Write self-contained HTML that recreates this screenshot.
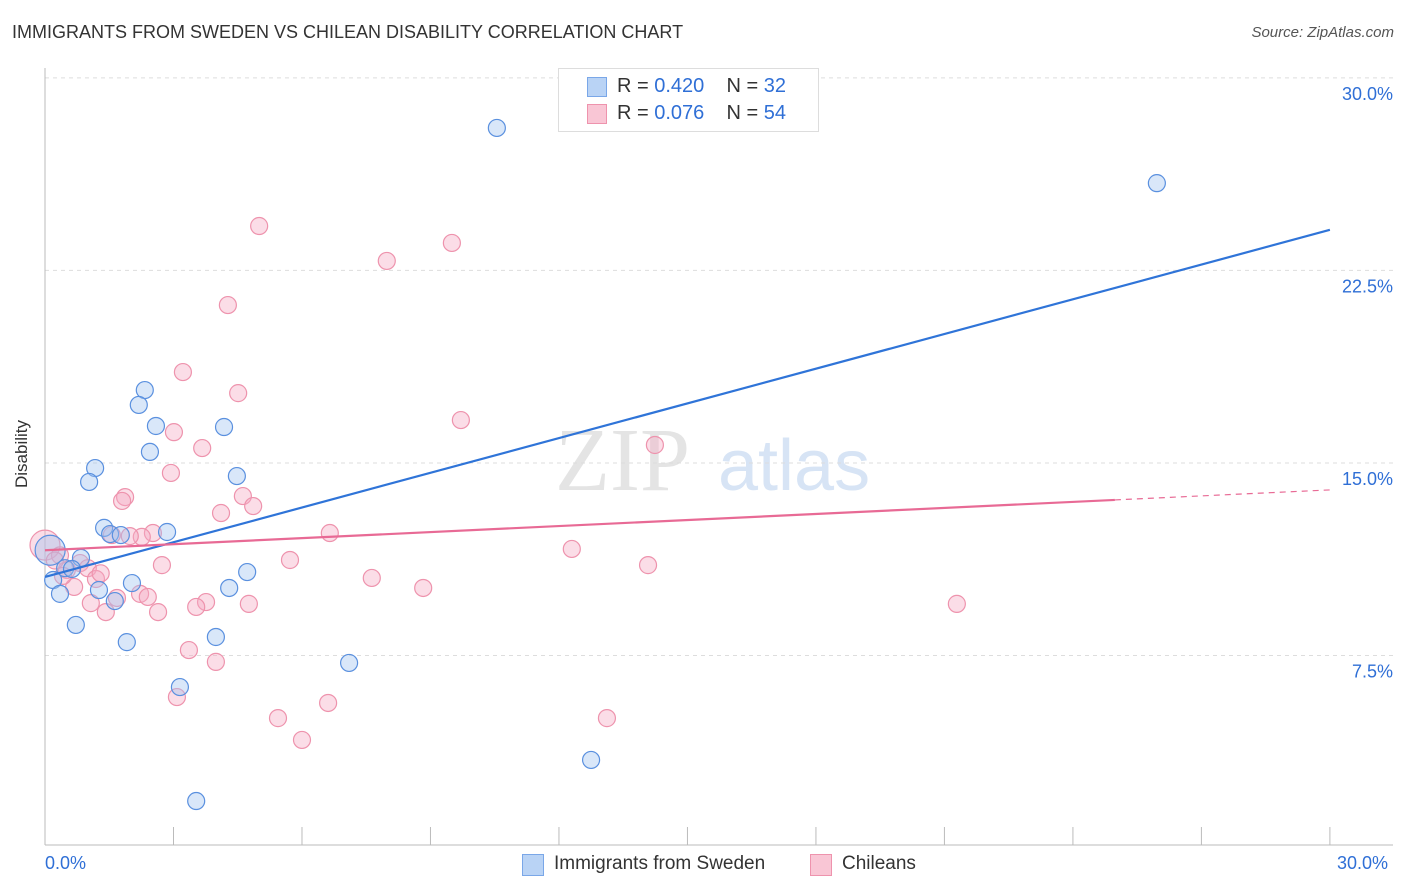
<!DOCTYPE html>
<html><head><meta charset="utf-8">
<style>
body{margin:0;background:#fff;font-family:"Liberation Sans",sans-serif;}
#wrap{position:relative;width:1406px;height:892px;overflow:hidden;}
.t{position:absolute;white-space:nowrap;}
</style></head>
<body>
<div id="wrap">
<div class="t" style="left:12px;top:22px;font-size:18px;color:#333;">IMMIGRANTS FROM SWEDEN VS CHILEAN DISABILITY CORRELATION CHART</div>
<div class="t" style="right:12px;top:24px;font-size:15px;color:#555;font-style:italic;">Source: ZipAtlas.com</div>
<svg id="svg" width="1406" height="892" style="position:absolute;left:0;top:0"></svg>
<div style="position:absolute;left:558px;top:68px;width:259px;height:62px;border:1px solid #ddd;background:#fff;">
 <div style="position:absolute;left:28px;top:8px;width:18px;height:18px;background:#b9d3f5;border:1px solid #7aa7e8;"></div>
 <div class="t" style="left:58px;top:6px;font-size:20px;color:#333;">R = <span style="color:#2f6fd6">0.420</span>&nbsp;&nbsp;&nbsp; N = <span style="color:#2f6fd6">32</span></div>
 <div style="position:absolute;left:28px;top:35px;width:18px;height:18px;background:#f9c6d5;border:1px solid #ee93ad;"></div>
 <div class="t" style="left:58px;top:33px;font-size:20px;color:#333;">R = <span style="color:#2f6fd6">0.076</span>&nbsp;&nbsp;&nbsp; N = <span style="color:#2f6fd6">54</span></div>
</div>
<div>
 <div style="position:absolute;left:522px;top:854px;width:20px;height:20px;background:#b9d3f5;border:1px solid #7aa7e8;"></div>
 <div class="t" style="left:554px;top:853px;font-size:19px;color:#333;">Immigrants from Sweden</div>
 <div style="position:absolute;left:810px;top:854px;width:20px;height:20px;background:#f9c6d5;border:1px solid #ee93ad;"></div>
 <div class="t" style="left:842px;top:853px;font-size:19px;color:#333;">Chileans</div>
</div>
<div class="t" style="left:-12px;top:444px;font-size:17px;color:#333;transform:rotate(-90deg);">Disability</div>
<div class="t" style="left:45px;top:853px;font-size:18px;color:#2f6fd6;">0.0%</div>
<div class="t" style="left:1337px;top:853px;font-size:18px;color:#2f6fd6;">30.0%</div>
</div>
<script>
const yTicks=[7.5,15,22.5,30];
const yTickLabels=["7.5%","15.0%","22.5%","30.0%"];
const blueX=[10.55,25.96,2.33,2.19,2.59,4.18,2.45,1.17,1.03,4.48,1.38,1.52,1.77,2.85,0.84,0.12,0.19,0.47,0.63,4.72,2.03,1.26,0.35,1.63,4.30,0.72,1.91,3.99,7.10,3.15,12.75,3.53];
const blueY=[28.05,25.9,17.84,17.26,16.44,16.4,15.43,14.8,14.26,14.49,12.47,12.23,12.19,12.31,11.3,11.6,10.44,10.9,10.87,10.75,10.32,10.05,9.9,9.62,10.13,8.69,8.02,8.22,7.21,6.27,3.43,1.83];
const pinkX=[5.0,9.5,7.98,4.27,3.22,4.51,9.71,3.01,14.24,3.67,2.94,1.87,1.80,4.62,4.86,4.11,6.65,2.52,2.26,1.98,1.56,0,12.3,5.72,2.73,14.08,0.82,1.0,0.51,7.63,1.19,8.83,0.68,2.22,2.40,1.68,1.07,3.76,3.53,4.76,21.29,1.42,2.64,3.36,3.99,3.08,6.61,5.44,13.12,6.0,0.35,0.23,1.3,0.42];
const pinkY=[24.23,23.57,22.87,21.15,18.54,17.72,16.67,16.2,15.7,15.58,14.61,13.67,13.52,13.71,13.32,13.05,12.27,12.27,12.12,12.15,12.19,11.8,11.65,11.22,11.02,11.02,11.1,10.9,10.83,10.52,10.48,10.13,10.17,9.9,9.78,9.74,9.54,9.58,9.39,9.51,9.51,9.19,9.19,7.71,7.25,5.88,5.65,5.06,5.06,4.21,11.4,11.2,10.7,10.6];
const blueTrend=[[0,10.56],[30,24.08]];
const pinkTrend=[[0,11.6],[24.98,13.56]];
const pinkTrendExt=[[24.98,13.56],[30,13.95]];
const xTicks=[0,3,6,9,12,15,18,21,24,27,30];

const sx=v=>45+v*42.83, sy=v=>848-v*25.67;
const svg=document.getElementById('svg');
const NS='http://www.w3.org/2000/svg';
function mk(t,a){const e=document.createElementNS(NS,t);for(const k in a)e.setAttribute(k,a[k]);svg.appendChild(e);return e;}
let w=mk('text',{x:555,y:490,'font-size':90,fill:'#e4e4e4','font-family':'Liberation Serif',});w.textContent='ZIP';


let w2=mk('text',{x:718,y:490,'font-size':72,fill:'#d7e4f5','font-family':'Liberation Sans'});w2.textContent='atlas';


yTicks.forEach((v,i)=>{
 const g=mk('line',{x1:45,x2:1393,y1:sy(v),y2:sy(v),stroke:'#ddd','stroke-dasharray':'4,4'});
 
 
 const t=mk('text',{x:1393,y:sy(v)+22,'text-anchor':'end','font-size':18,fill:'#2f6fd6','font-family':'Liberation Sans'});
 t.textContent=yTickLabels[i];
 
 
});
let ax=mk('line',{x1:45,x2:45,y1:68,y2:845,stroke:'#bbb'});


let bx=mk('line',{x1:45,x2:1393,y1:845,y2:845,stroke:'#bbb'});


xTicks.forEach(v=>{const l=mk('line',{x1:sx(v),x2:sx(v),y1:827,y2:845,stroke:'#bbb'});
 
 });
function dots(X,Y,fill,stroke,name){X.forEach((x,i)=>{
 const big=(x<0.4&&Math.abs(Y[i]-11.7)<0.2);
 const c=mk('circle',{cx:sx(X[i]),cy:sy(Y[i]),r:big?15:8.5,fill:fill,stroke:stroke,'stroke-width':1.2});
 
 });}
dots(pinkX,pinkY,'rgba(246,170,195,0.4)','#ee93ad','chileans-point');
dots(blueX,blueY,'rgba(160,195,240,0.4)','#5a90df','sweden-point');
let l1=mk('line',{x1:sx(blueTrend[0][0]),y1:sy(blueTrend[0][1]),x2:sx(blueTrend[1][0]),y2:sy(blueTrend[1][1]),stroke:'#2f74d8','stroke-width':2.2});


let l2=mk('line',{x1:sx(pinkTrend[0][0]),y1:sy(pinkTrend[0][1]),x2:sx(pinkTrend[1][0]),y2:sy(pinkTrend[1][1]),stroke:'#e86a95','stroke-width':2.2});


let l3=mk('line',{x1:sx(pinkTrendExt[0][0]),y1:sy(pinkTrendExt[0][1]),x2:sx(pinkTrendExt[1][0]),y2:sy(pinkTrendExt[1][1]),stroke:'#e86a95','stroke-width':1.2,'stroke-dasharray':'6,5'});


</script>
</body></html>
